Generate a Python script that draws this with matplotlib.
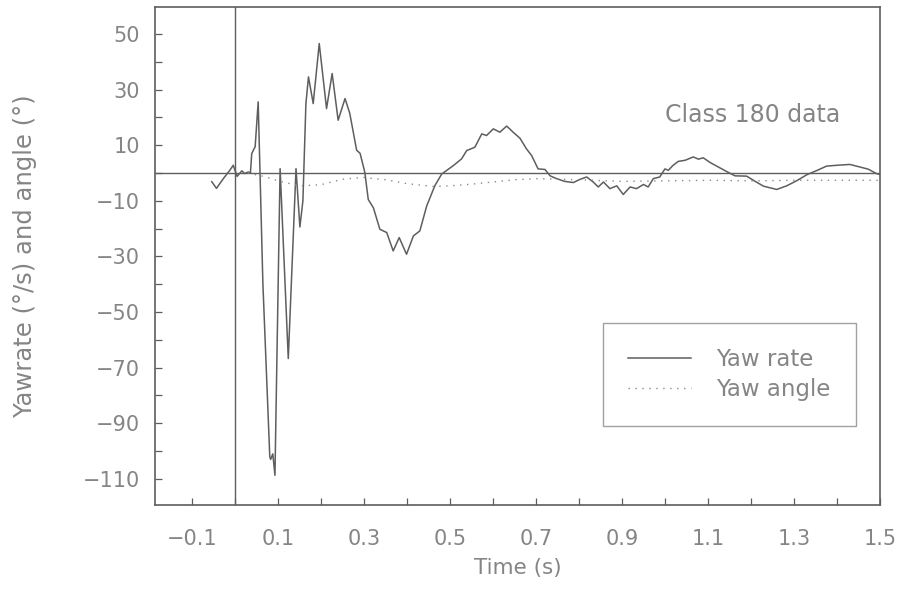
import matplotlib
matplotlib.use('Agg')
import matplotlib.pyplot as plt
from matplotlib.ticker import MultipleLocator, FixedLocator

# yaw rate trace (time in s, deg/s)
rate_t = [-0.054, -0.043, -0.027, -0.012, -0.004, 0.005, 0.016, 0.023, 0.031, 0.036,
          0.039, 0.047, 0.054, 0.065, 0.081, 0.083, 0.088, 0.093, 0.105, 0.124,
          0.142, 0.151, 0.158, 0.165, 0.171, 0.182, 0.196, 0.213, 0.226, 0.240,
          0.256, 0.267, 0.283, 0.291, 0.302, 0.310, 0.322, 0.337, 0.353, 0.368,
          0.382, 0.399, 0.415, 0.430, 0.446, 0.465, 0.481, 0.492, 0.508, 0.527,
          0.539, 0.558, 0.574, 0.585, 0.601, 0.616, 0.632, 0.647, 0.663, 0.678,
          0.690, 0.705, 0.721, 0.733, 0.748, 0.767, 0.787, 0.802, 0.818, 0.833,
          0.845, 0.857, 0.872, 0.888, 0.903, 0.919, 0.934, 0.950, 0.961, 0.973,
          0.988, 1.000, 1.008, 1.019, 1.031, 1.047, 1.066, 1.078, 1.089, 1.105,
          1.124, 1.143, 1.163, 1.190, 1.209, 1.229, 1.260, 1.283, 1.306, 1.330,
          1.353, 1.376, 1.400, 1.430, 1.453, 1.473, 1.492, 1.500]
rate = [-3.1, -5.5, -2.0, 1.0, 2.8, -1.2, 0.8, -0.2, 0.4, 0.0,
        7.0, 9.5, 25.6, -40.0, -102.0, -103.0, -101.0, -108.7, 1.6, -66.7,
        1.6, -19.4, -10.0, 25.0, 34.6, 25.0, 46.6, 23.2, 35.8, 19.0,
        26.8, 21.5, 8.2, 7.1, 0.3, -9.5, -12.5, -20.2, -21.4, -28.0,
        -23.2, -29.2, -22.6, -20.8, -11.8, -4.5, -0.3, 0.9, 2.7, 5.1,
        8.1, 9.3, 14.1, 13.5, 15.9, 14.7, 16.9, 14.7, 12.5, 8.7,
        6.3, 1.5, 1.3, -1.0, -2.0, -3.0, -3.4, -2.3, -1.4, -3.2,
        -5.0, -3.2, -5.6, -4.6, -7.7, -5.0, -5.6, -4.1, -5.0, -2.0,
        -1.4, 1.5, 1.0, 2.8, 4.2, 4.6, 5.8, 5.0, 5.5, 3.8,
        2.2, 0.6, -1.0, -1.1, -2.9, -4.7, -5.9, -4.6, -2.8, -0.6,
        0.9, 2.5, 2.8, 3.1, 2.2, 1.4, -0.2, -0.5]

# yaw angle trace (deg)
angle_t = [0.03, 0.07, 0.10, 0.15, 0.20, 0.25, 0.30, 0.35, 0.40, 0.46, 0.50,
           0.55, 0.60, 0.65, 0.70, 0.80, 0.90, 1.00, 1.10, 1.20, 1.30, 1.40, 1.50]
angle = [0.0, -1.3, -2.8, -4.6, -4.2, -2.2, -1.6, -2.4, -3.8, -4.8, -4.6,
         -4.0, -3.2, -2.4, -2.0, -2.4, -3.0, -2.8, -2.6, -2.8, -2.6, -2.6, -2.6]

xtick_labels = [-0.1, 0.1, 0.3, 0.5, 0.7, 0.9, 1.1, 1.3, 1.5]
ytick_labels = [50, 30, 10, -10, -30, -50, -70, -90, -110]

txt = '#858585'
ink = '#5e5e5e'
plt.rcParams['font.family'] = 'DejaVu Sans'

fig = plt.figure(figsize=(9.09, 5.90), dpi=100)
ax = fig.add_axes([0.1705, 0.144, 0.7975, 0.844])

ax.axhline(0, color=ink, lw=1.0)
ax.axvline(0, color=ink, lw=1.0)
ax.plot(rate_t, rate, color=ink, lw=1.1, label='Yaw rate')
ax.plot(angle_t, angle, color='#8a8a8a', lw=1.0, ls=(0, (1, 4)), label='Yaw angle')

ax.set_xlim(-0.186, 1.5)
ax.set_ylim(-119.4, 59.7)
ax.xaxis.set_major_locator(FixedLocator(xtick_labels))
ax.xaxis.set_minor_locator(MultipleLocator(0.1))
ax.yaxis.set_major_locator(FixedLocator(ytick_labels))
ax.yaxis.set_minor_locator(MultipleLocator(10))
ax.set_xticklabels([f'{v:.1f}'.replace('-', '\u2212') for v in xtick_labels])
ax.set_yticklabels([str(v).replace('-', '\u2212') for v in ytick_labels])
ax.tick_params(which='both', direction='in', length=5, width=0.9, color=ink,
               labelcolor=txt, labelsize=15)
ax.tick_params(axis='x', pad=17)
ax.tick_params(axis='y', pad=11)
for s in ax.spines.values():
    s.set_color(ink)
    s.set_linewidth(1.2)

ax.set_xlabel('Time (s)', color=txt, fontsize=15.5)
ax.set_ylabel('Yawrate (°/s) and angle (°)', color=txt, fontsize=17.5)
ax.xaxis.set_label_coords(0.5, -0.106)
ax.yaxis.set_label_coords(-0.163, 0.5)

ax.text(1.0, 20.9, 'Class 180 data', color=txt, fontsize=17, va='center', ha='left')

leg = ax.legend(loc='upper left', bbox_to_anchor=(0.618, 0.366), fontsize=16.5,
                frameon=True, fancybox=False, handlelength=2.75, handletextpad=1.1,
                borderpad=1.1, labelspacing=0.3, borderaxespad=0)
leg.get_frame().set_edgecolor('#8a8a8a')
leg.get_frame().set_linewidth(1.0)
for t in leg.get_texts():
    t.set_color(txt)

fig.savefig('out.png', dpi=100)
